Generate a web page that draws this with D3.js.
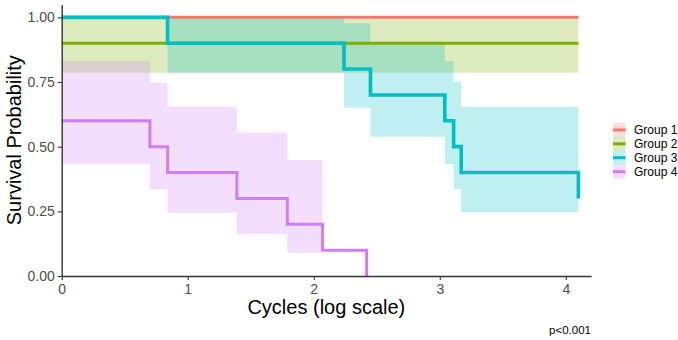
<!DOCTYPE html>
<html><head><meta charset="utf-8">
<script src="https://cdn.jsdelivr.net/npm/d3@7"></script>
<style>body{margin:0;background:#fff}svg{display:block}text{font-family:"Liberation Sans",Arial,sans-serif}</style>
</head><body><svg id="c" width="678" height="340"></svg>
<script>
const groups = ["Group 1","Group 2","Group 3","Group 4"];
const colors = ["#F8766D","#7CAE00","#00BFC4","#D27CF8"];
// Kaplan-Meier steps: times (log scale), survival, CI lower/upper per segment
const times1 = [0, 4.1];
const surv1  = [1.0, 1.0];
const lower1 = [null];
const upper1 = [null];
const times2 = [0, 4.1];
const surv2  = [0.9, 0.9];
const lower2 = [0.786];
const upper2 = [1.0];
const times3 = [0, 0.84, 2.24, 2.45, 3.04, 3.11, 3.17, 4.1];
const surv3  = [1.0, 0.9, 0.8, 0.7, 0.6, 0.5, 0.4, 0.3];
const lower3 = [1.0, 0.786, 0.65, 0.538, 0.433, 0.335, 0.246];
const upper3 = [1.0, 1.0, 0.977, 0.9, 0.831, 0.751, 0.654];
const times4 = [0, 0.70, 0.84, 1.39, 1.79, 2.07, 2.42];
const surv4  = [0.6, 0.5, 0.4, 0.3, 0.2, 0.1, 0.0];
const lower4 = [0.432, 0.335, 0.245, 0.162, 0.09, null];
const upper4 = [0.831, 0.747, 0.654, 0.555, 0.448, null];
const xTicks = [0, 1, 2, 3, 4];
const yTicks = [0, 0.25, 0.5, 0.75, 1.0];
const pText = "p<0.001";

const series = [
  {t: times1, s: surv1, lo: lower1, hi: upper1},
  {t: times2, s: surv2, lo: lower2, hi: upper2},
  {t: times3, s: surv3, lo: lower3, hi: upper3},
  {t: times4, s: surv4, lo: lower4, hi: upper4}
];

const svg = d3.select("#c");
const x = d3.scaleLinear().domain([0, 4.2]).range([61.7, 591]);
const y = d3.scaleLinear().domain([0, 1.05]).range([276, 4.4]);

// bands
const area = d3.area().x(d => x(d.t)).y0(d => y(d.lo)).y1(d => y(d.hi));
series.forEach((g, gi) => {
  const pts = [];
  for (let i = 0; i < g.t.length - 1; i++) {
    if (g.lo[i] == null) continue;
    pts.push({t: g.t[i], lo: g.lo[i], hi: g.hi[i]});
    pts.push({t: g.t[i+1], lo: g.lo[i], hi: g.hi[i]});
  }
  if (pts.length) svg.append("path").attr("d", area(pts))
    .attr("fill", colors[gi]).attr("fill-opacity", 0.25);
});

// lines
const line = d3.line().x(d => x(d[0])).y(d => y(d[1])).curve(d3.curveStepAfter);
series.forEach((g, gi) => {
  svg.append("path").attr("d", line(g.t.map((t, i) => [t, g.s[i]])))
    .attr("fill", "none").attr("stroke", colors[gi])
    .attr("stroke-width", gi === 2 ? 3.6 : 3).attr("stroke-linejoin", "miter").attr("stroke-linecap", "butt");
});

// axes
const ax = svg.append("g").attr("transform", `translate(0,${y(0)})`)
  .call(d3.axisBottom(x).tickValues(xTicks).tickFormat(d3.format("d")).tickSize(4).tickSizeOuter(0));
const ay = svg.append("g").attr("transform", `translate(${x(0)},0)`)
  .call(d3.axisLeft(y).tickValues(yTicks).tickFormat(d3.format(".2f")).tickSize(4).tickSizeOuter(0));
[ax, ay].forEach(a => {
  a.select(".domain").attr("stroke", "#333").attr("stroke-width", 1.4);
  a.selectAll(".tick line").attr("stroke", "#333").attr("stroke-width", 1.1);
  a.selectAll(".tick text").attr("fill", "#4D4D4D").style("font-size", "14px")
    .style("font-family", "'Liberation Sans',Arial,sans-serif");
});
ax.selectAll(".tick text").attr("dy", "0.9em").attr("y", 5);
ay.selectAll(".tick text").attr("x", -7);

svg.append("text").attr("x", (x(0) + x(4.2)) / 2).attr("y", 314)
  .attr("text-anchor", "middle").style("font-size", "20px").attr("fill", "#000").text("Cycles (log scale)");
svg.append("text").attr("transform", `translate(21,${(y(0) + y(1.05)) / 2}) rotate(-90)`)
  .attr("text-anchor", "middle").style("font-size", "20px").attr("fill", "#000").text("Survival Probability");
svg.append("text").attr("x", 591).attr("y", 334).attr("text-anchor", "end")
  .style("font-size", "11.5px").attr("fill", "#000").text(pText);

// legend
const lg = svg.append("g").attr("transform", "translate(613,123)");
groups.forEach((name, i) => {
  const row = lg.append("g").attr("transform", `translate(0,${i * 13.9})`);
  row.append("rect").attr("x", 0).attr("y", 0).attr("width", 12.5).attr("height", 13.9)
    .attr("fill", colors[i]).attr("fill-opacity", 0.25);
  row.append("line").attr("x1", 0).attr("x2", 12.5).attr("y1", 6.95).attr("y2", 6.95)
    .attr("stroke", colors[i]).attr("stroke-width", 3);
  row.append("text").attr("x", 21).attr("y", 6.95).attr("dy", "0.35em")
    .style("font-size", "12px").attr("fill", "#000").text(name);
});
</script></body></html>
